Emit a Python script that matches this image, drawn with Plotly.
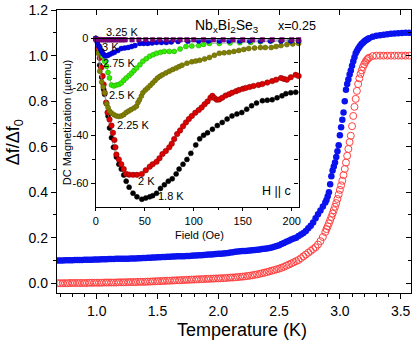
import plotly.graph_objects as go

# ---------------- main panel data ----------------
temperature_K = [
    0.68, 0.70, 0.72, 0.74, 0.76, 0.78, 0.80, 0.82, 0.84, 0.86, 0.88, 0.90, 0.92, 0.94, 0.96, 0.98,
    1.00, 1.02, 1.04, 1.06, 1.08, 1.10, 1.12, 1.14, 1.16, 1.18, 1.20, 1.22, 1.24, 1.26, 1.28, 1.30,
    1.32, 1.34, 1.36, 1.38, 1.40, 1.42, 1.44, 1.46, 1.48, 1.50, 1.52, 1.54, 1.56, 1.58, 1.60, 1.62,
    1.64, 1.66, 1.68, 1.70, 1.72, 1.74, 1.76, 1.78, 1.80, 1.82, 1.84, 1.86, 1.88, 1.90, 1.92, 1.94,
    1.96, 1.98, 2.00, 2.02, 2.04, 2.06, 2.08, 2.10, 2.12, 2.14, 2.16, 2.18, 2.20, 2.22, 2.24, 2.26,
    2.28, 2.30, 2.32, 2.34, 2.36, 2.38, 2.40, 2.42, 2.44, 2.46, 2.48,
    2.50, 2.52, 2.54, 2.56, 2.58, 2.60, 2.62, 2.64, 2.66, 2.68, 2.70, 2.72, 2.74, 2.76, 2.78, 2.80,
    2.82, 2.84, 2.86, 2.88,
    2.89, 2.90, 2.91, 2.92, 2.93, 2.94, 2.95, 2.96, 2.97, 2.98, 2.99, 3.00, 3.01, 3.02, 3.03, 3.04,
    3.05, 3.06, 3.07, 3.08, 3.09, 3.10, 3.11, 3.12, 3.13, 3.14, 3.15, 3.16, 3.17, 3.18, 3.19, 3.20,
    3.21, 3.22, 3.23, 3.24,
    3.27, 3.30, 3.33, 3.36, 3.39, 3.42, 3.45, 3.48, 3.51, 3.54, 3.57,
]
df_blue = [
    0.100, 0.100, 0.100, 0.101, 0.101, 0.101, 0.101, 0.102, 0.102, 0.102, 0.102, 0.103, 0.103, 0.103, 0.103, 0.104,
    0.104, 0.104, 0.105, 0.105, 0.105, 0.106, 0.106, 0.106, 0.107, 0.107, 0.107, 0.108, 0.108, 0.108, 0.109, 0.109,
    0.109, 0.110, 0.110, 0.111, 0.111, 0.112, 0.112, 0.113, 0.113, 0.114, 0.114, 0.115, 0.115, 0.116, 0.116, 0.117,
    0.117, 0.118, 0.118, 0.119, 0.119, 0.120, 0.120, 0.121, 0.122, 0.122, 0.123, 0.123, 0.124, 0.125, 0.126, 0.126,
    0.127, 0.128, 0.129, 0.130, 0.131, 0.132, 0.133, 0.135, 0.136, 0.138, 0.139, 0.140, 0.141, 0.142, 0.143, 0.144,
    0.145, 0.146, 0.147, 0.148, 0.150, 0.151, 0.153, 0.155, 0.157, 0.160, 0.163,
    0.167, 0.172, 0.177, 0.182, 0.187, 0.192, 0.196, 0.200, 0.207, 0.214, 0.221, 0.229, 0.241, 0.253, 0.267, 0.285,
    0.303, 0.320, 0.337, 0.355,
    0.366, 0.382, 0.400, 0.435, 0.470, 0.495, 0.513, 0.530, 0.555, 0.580, 0.606, 0.650, 0.685, 0.718, 0.750, 0.800,
    0.850, 0.875, 0.895, 0.917, 0.935, 0.955, 0.975, 0.993, 1.010, 1.020, 1.030, 1.038, 1.046, 1.052, 1.057, 1.062,
    1.066, 1.070, 1.073, 1.076,
    1.083, 1.087, 1.090, 1.092, 1.094, 1.096, 1.097, 1.098, 1.099, 1.100, 1.100,
]
df_red = [
    0.000, 0.000, 0.000, 0.000, 0.000, 0.001, 0.001, 0.001, 0.001, 0.001, 0.001, 0.001, 0.001, 0.002, 0.002, 0.002,
    0.002, 0.002, 0.002, 0.003, 0.003, 0.003, 0.003, 0.003, 0.003, 0.004, 0.004, 0.004, 0.004, 0.005, 0.005, 0.005,
    0.005, 0.006, 0.006, 0.006, 0.006, 0.007, 0.007, 0.008, 0.008, 0.009, 0.009, 0.010, 0.010, 0.011, 0.011, 0.012,
    0.012, 0.013, 0.013, 0.014, 0.014, 0.015, 0.015, 0.016, 0.016, 0.017, 0.017, 0.018, 0.018, 0.019, 0.019, 0.020,
    0.020, 0.021, 0.021, 0.022, 0.022, 0.023, 0.024, 0.025, 0.025, 0.026, 0.027, 0.028, 0.029, 0.030, 0.032, 0.033,
    0.035, 0.037, 0.039, 0.041, 0.044, 0.046, 0.049, 0.052, 0.055, 0.058, 0.061,
    0.064, 0.068, 0.072, 0.077, 0.082, 0.087, 0.092, 0.097, 0.102, 0.110, 0.118, 0.126, 0.134, 0.142, 0.150, 0.158,
    0.170, 0.185, 0.203, 0.225,
    0.238, 0.250, 0.263, 0.277, 0.291, 0.306, 0.321, 0.336, 0.352, 0.370, 0.390, 0.410, 0.430, 0.450, 0.475, 0.502,
    0.530, 0.560, 0.590, 0.620, 0.648, 0.690, 0.735, 0.775, 0.810, 0.845, 0.875, 0.900, 0.920, 0.935, 0.950, 0.962,
    0.972, 0.980, 0.986, 0.991,
    0.998, 1.000, 1.000, 1.000, 1.000, 1.000, 1.000, 1.000, 1.000, 1.000, 1.000,
]
main_x_ticks = [1.0, 1.5, 2.0, 2.5, 3.0, 3.5]
main_y_ticks = [0.0, 0.2, 0.4, 0.6, 0.8, 1.0, 1.2]

# ---------------- inset data (Field in Oe, M in micro-emu) ----------------
H_18K = [0, 2, 4, 6, 8, 9, 11, 12.5, 14, 16, 18, 21, 23.5, 26, 28.5, 31, 34, 38, 42, 47, 51, 55, 58, 62, 66, 70,
         74, 78, 82, 85, 89, 93, 97, 102, 106, 110, 114, 119, 124, 129, 134, 139, 144, 149, 154, 159, 164, 170,
         175, 180, 185, 190, 194, 199, 204, 208]
M_18K = [0, -5, -11, -16, -21, -23, -27, -32, -37, -41, -45, -49, -52, -54, -56.5, -59, -61.5, -64, -65.5, -66.5,
         -66, -65.5, -65, -64, -62, -60.5, -59, -58, -56, -54, -52, -50, -47.5, -44, -41.5, -40, -39, -37.5, -36,
         -34.7, -33.3, -32, -31.2, -30.6, -29.2, -27.8, -26.7, -25.7, -25.5, -25.3, -24.5, -23.7, -22.8, -22.4,
         -22.2, -22]
H_2K = [0, 2, 4, 5.5, 7, 8, 9, 10.5, 12, 14, 16, 17.5, 19, 20, 21, 23.5, 26, 28.5, 31, 34, 38, 42, 47, 51, 55, 58,
        62, 65, 68, 71.5, 75, 77.5, 80, 83, 86, 89, 92, 95, 98, 101.5, 105, 108, 111, 114, 117, 119, 121, 123.5,
        126, 129, 132.5, 136, 139, 143, 146, 150, 153, 157, 161, 166, 170, 175, 180, 184, 189, 192, 195, 199, 204, 207]
M_2K = [0, -4, -8, -12, -15.5, -19, -22.4, -26.5, -30.6, -33.5, -36, -39, -42, -45, -48, -50, -52, -54, -56, -56.3,
        -56.4, -56.4, -56, -54.5, -53, -52, -51, -49.5, -47.8, -46.5, -45, -43.5, -41.6, -39.5, -38, -36.3, -34.7,
        -33.3, -32, -30.7, -29.6, -28.5, -27.2, -26, -24.5, -23.7, -24.6, -25.3, -25.2, -24.5, -23.6, -23, -22.4,
        -21.8, -21.3, -20.8, -20.4, -20, -19.6, -19.2, -18.8, -18.2, -17.6, -17, -16.3, -16.7, -17, -16, -15, -15.5]
H_25K = [0, 2, 4, 6, 7.5, 9, 11, 12.5, 14, 16, 18.5, 21, 23.5, 26, 28.5, 31, 33.5, 36, 39, 41.5, 43, 44.6, 46.5, 48,
         50.5, 53, 55.5, 58, 60.5, 63, 65.5, 68, 71.5, 75, 78.5, 82, 85, 88, 93, 98, 102, 106, 111, 116, 121, 126,
         131, 136, 141, 146, 151, 156, 162, 168, 173, 179, 184, 189, 195, 201, 207]
M_25K = [0, -6, -13.5, -18, -20, -22.4, -27, -28.5, -30, -30.8, -31.5, -32, -32.2, -32, -31.5, -30.6, -30, -29.4,
         -28.7, -28, -26.5, -25.3, -23.8, -22.4, -21.3, -20.4, -19.4, -18.4, -17.3, -16.3, -15.6, -15, -14.2, -13.5,
         -12.8, -12.2, -11.6, -11, -10.2, -9.6, -9.3, -9, -8.4, -7.8, -6.9, -6.1, -5.9, -5.7, -5.3, -4.9, -4.5,
         -4.1, -3.9, -3.7, -3.7, -3.7, -3.3, -2.9, -2.5, -2.2, -2]
H_275K = [0, 1.5, 4, 5.5, 7, 9, 11, 12.5, 14, 16, 18.5, 21, 23.5, 26, 28.5, 31, 34, 36.5, 39, 41.6, 45, 48, 51.5, 55,
          58.5, 62, 66, 70, 75, 80, 86, 92, 98, 105, 110, 116, 126, 137, 147, 158, 168, 179, 189, 198, 207]
M_275K = [0, -1, -3.3, -5.3, -7.3, -9.4, -11.4, -14, -16.3, -19.2, -19.6, -19.2, -19, -18.4, -17.3, -16.3, -15.3,
          -14.3, -13.2, -12.2, -10.8, -9.4, -8.3, -7.3, -6.7, -6.1, -5.7, -5.3, -5.3, -5.3, -4.3, -3.3, -3.1, -2.9,
          -2.4, -2, -2, -1.8, -1.7, -1.6, -1.3, -1, -0.8, -0.8, -0.8]
H_3K = [0, 1.5, 3, 4, 5.5, 7, 8.5, 10, 12, 14, 16.5, 19, 22.5, 26, 29.5, 33, 36.5, 40, 45, 49, 53, 57.5, 62, 67, 72,
        77, 84, 94, 105, 115, 126, 136, 147, 157, 168, 178, 189, 199, 207]
M_3K = [0, -1.5, -3, -3.7, -5, -6.1, -6.8, -7.2, -7, -6.6, -6.1, -5.7, -4.9, -4.1, -3.9, -3.7, -3.3, -2.9, -2, -2, -2,
        -1.8, -1.6, -1.6, -1.6, -1.4, -1.2, -1.1, -1, -1, -1, -1, -1, -1, -1, -1, -1, -1, -1]
H_325K = [0, 2, 4, 6, 8, 10, 12, 14, 16, 18, 20, 22, 24, 26, 28, 30, 37, 44, 51, 58, 65, 72, 79, 86, 93, 100, 110,
          120, 130, 140, 150, 160, 170, 180, 190, 200, 207]
M_325K = [-0.3, -0.4, -0.4, -0.5, -0.5, -0.5, -0.5, -0.5, -0.5, -0.5, -0.5, -0.5, -0.5, -0.5, -0.5, -0.5, -0.5,
          -0.5, -0.5, -0.5, -0.5, -0.5, -0.5, -0.5, -0.5, -0.5, -0.5, -0.5, -0.5, -0.5, -0.5, -0.5, -0.5, -0.5,
          -0.5, -0.5, -0.5]

inset_labels = ["3.25 K", "3 K", "2.75 K", "2.5 K", "2.25 K", "2 K", "1.8 K"]
inset_x_ticks = [0, 50, 100, 150, 200]
inset_y_ticks = [0, -20, -40, -60]
inset_y_ticktext = ["0", "-20", "-40", "-60"]

FONT = "Liberation Sans, Arial, sans-serif"

fig = go.Figure()

# main traces
fig.add_trace(go.Scatter(x=temperature_K, y=df_red, mode="markers", xaxis="x", yaxis="y",
                         marker=dict(symbol="circle-open", size=7, color="#ff4040", line=dict(width=1)),
                         showlegend=False))
fig.add_trace(go.Scatter(x=temperature_K, y=df_blue, mode="markers", xaxis="x", yaxis="y",
                         marker=dict(symbol="circle", size=6.5, color="#0a12ee", line=dict(width=0)),
                         showlegend=False))
# empty traces to activate the mirror (inside-tick) axes
fig.add_trace(go.Scatter(x=[None], y=[None], xaxis="x3", yaxis="y3", showlegend=False, hoverinfo="skip"))
fig.add_trace(go.Scatter(x=[None], y=[None], xaxis="x2", yaxis="y4", showlegend=False, hoverinfo="skip"))

# inset traces
inset_series = [
    (H_18K, M_18K, "circle", 5, "#000000", "#000000"),
    (H_2K, M_2K, "circle", 5.5, "#e00000", "#7a0000"),
    (H_25K, M_25K, "circle", 5, "#808000", "#5a5a00"),
    (H_275K, M_275K, "circle", 5, "#33f000", "#1f9a00"),
    (H_3K, M_3K, "circle", 5, "#0000ee", "#0000aa"),
    (H_325K, M_325K, "square", 4.5, "#800080", "#600060"),
]
for hx, my, sym, sz, fc, lc in inset_series:
    fig.add_trace(go.Scatter(x=hx, y=my, mode="lines+markers", xaxis="x2", yaxis="y2",
                             line=dict(color="#a0a0a0", width=0.8),
                             marker=dict(symbol=sym, size=sz, color=fc, line=dict(color=lc, width=0.5)),
                             cliponaxis=False, showlegend=False))

axis_common = dict(showgrid=False, zeroline=False, showline=True, linecolor="black", linewidth=1.3,
                   tickcolor="black", tickwidth=1.2)

x_range = [0.673, 3.585]
y_range = [-0.043, 1.2005]
inset_x_range = [0, 207]
inset_y_range = [-69.8, 0]

fig.update_layout(
    width=415, height=342,
    margin=dict(l=57, r=2, t=6, b=49),
    paper_bgcolor="white", plot_bgcolor="white",
    font=dict(family=FONT, color="black"),
    xaxis=dict(**axis_common, domain=[0, 1], anchor="y", range=x_range, ticks="outside", ticklen=5,
               tickvals=main_x_ticks, tickformat=".1f", tickfont=dict(size=14),
               minor=dict(dtick=0.1, ticks="outside", ticklen=3, tickcolor="black", tickwidth=1)),
    yaxis=dict(**axis_common, domain=[0, 1], anchor="x", range=y_range, ticks="outside", ticklen=5,
               tickvals=main_y_ticks, tickformat=".1f", tickfont=dict(size=14),
               minor=dict(dtick=0.1, ticks="outside", ticklen=3, tickcolor="black", tickwidth=1)),
    xaxis3=dict(**axis_common, overlaying="x", side="top", anchor="y3", range=x_range, ticks="inside",
                ticklen=5, tickvals=main_x_ticks, showticklabels=False),
    yaxis3=dict(**axis_common, overlaying="y", side="right", anchor="x3", range=y_range, ticks="inside",
                ticklen=5, tickvals=main_y_ticks, showticklabels=False,
                minor=dict(dtick=0.1, ticks="inside", ticklen=3, tickcolor="black", tickwidth=1)),
    xaxis2=dict(**axis_common, domain=[0.1096, 0.6826], anchor="y2", range=inset_x_range, ticks="outside",
                ticklen=3, tickvals=inset_x_ticks, tickfont=dict(size=11), mirror=True,
                minor=dict(dtick=25, ticks="outside", ticklen=2, tickcolor="black", tickwidth=1)),
    yaxis2=dict(**axis_common, domain=[0.303, 0.899], anchor="x2", range=inset_y_range, ticks="outside",
                ticklen=4, tickvals=inset_y_ticks, ticktext=inset_y_ticktext, tickfont=dict(size=11),
                minor=dict(dtick=10, ticks="outside", ticklen=2.5, tickcolor="black", tickwidth=1)),
    yaxis4=dict(**axis_common, overlaying="y2", side="right", anchor="x2", range=inset_y_range,
                ticks="inside", ticklen=4, dtick=10, showticklabels=False),
)

ann = []
def add_text(txt, x, y, size, angle=0):
    ann.append(dict(text=txt, x=x, y=y, xref="paper", yref="paper", showarrow=False,
                    xanchor="center", yanchor="middle", textangle=angle,
                    font=dict(family=FONT, size=size, color="black")))

add_text("Temperature (K)", 0.522, -0.129, 18)
add_text("Δf/Δf<sub>0</sub>", -0.121, 0.533, 18, -90)
add_text("DC Magnetization (µemu)", 0.028, 0.603, 11, -90)
add_text("Field (Oe)", 0.402, 0.205, 11)
add_text("Nb<sub>x</sub>Bi<sub>2</sub>Se<sub>3</sub>", 0.480, 0.944, 14)
add_text("x=0.25", 0.677, 0.944, 12.5)
add_text("H || c", 0.621, 0.359, 12.5)
label_pos = [(0.1826, 0.923), (0.1517, 0.868), (0.174, 0.812), (0.185, 0.700),
             (0.2135, 0.592), (0.253, 0.394), (0.323, 0.341)]
for lab, (lx, ly) in zip(inset_labels, label_pos):
    add_text(lab, lx, ly, 11)
fig.update_layout(annotations=ann)

fig.write_html("out.html", config={"displayModeBar": False},
               post_script="document.body.style.margin='0px';")
